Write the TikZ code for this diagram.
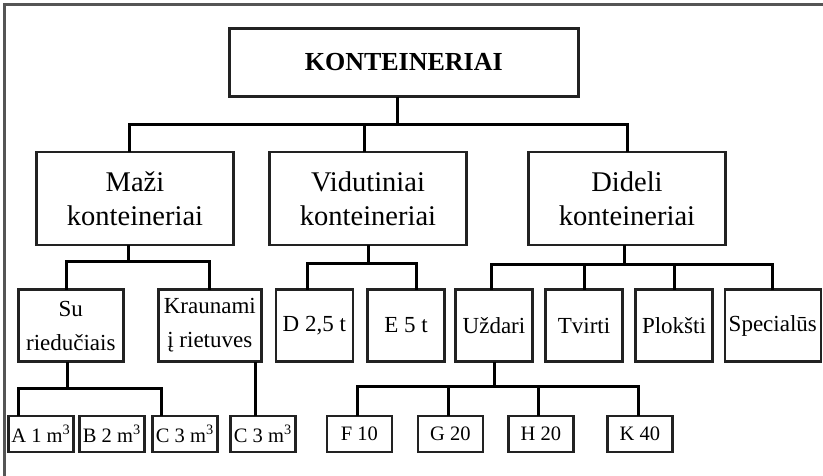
\documentclass[tikz,border=0pt]{standalone}
\usepackage{fontspec}
\setmainfont{Liberation Serif}
\usetikzlibrary{positioning, calc}

\begin{document}
\begin{tikzpicture}[
    x=1pt, y=-1pt,
    node distance = 14pt,
    box/.style = {
        rectangle,
        draw={rgb,255:red,34;green,34;blue,34},
        line width=2.6pt,
        outer sep=0pt,
        inner xsep=1pt,
        inner ysep=2pt,
        align=center,
        text=black
    },
    rootbox/.style = {box, minimum width=349pt, minimum height=68pt,
        font=\fontsize{26}{31}\selectfont\bfseries},
    grp/.style = {box, minimum width=197pt, minimum height=93pt,
        font=\fontsize{28.5}{34}\selectfont},
    kind/.style = {box, minimum width=77pt, minimum height=72pt,
        font=\fontsize{23}{34}\selectfont},
    leaf/.style = {box, minimum width=65pt, minimum height=36pt,
        font=\fontsize{20.5}{24}\selectfont},
    conn/.style = {line width=3pt, color=black}
]

\useasboundingbox (0,0) rectangle (823,475);

%% Outer frame (only top and left edges are in view)
\draw[line width=2.2pt, color={rgb,255:red,85;green,85;blue,85}]
    (4.5,480) -- (4.5,4.5) -- (830,4.5);

%% Root
\node[rootbox] (konte) at (403.8,62.5) {KONTEINERIAI};

%% Groups
\node[grp] (maza) at (135,198.5) {Maži\\konteineriai};
\node[grp, right=36pt of maza] (vid) {Vidutiniai\\konteineriai};
\node[grp, right=62pt of vid]  (did) {Dideli\\konteineriai};

%% Kinds
\node[kind, minimum width=105pt] (su) at (70.8,325.5) {Su\\riedučiais};
\node[kind, minimum width=103pt, right=35pt of su] (kraun) {Kraunami\\į rietuves};
\node[kind, right=14.5pt of kraun] (d25)   {D 2,5 t};
\node[kind, right=14.7pt of d25]   (e5)    {E 5 t};
\node[kind, right=11pt of e5]      (uzd)   {Uždari};
\node[kind, right=13pt of uzd]     (tvirt) {Tvirti};
\node[kind, right=13pt of tvirt]   (plok)  {Plokšti};
\node[kind, minimum width=96pt, right=12.3pt of plok] (spec) {Specialūs};

%% Leaves
\node[leaf] (am1) at (40.8,434)     {A 1 m\textsuperscript{3}};
\node[leaf, right=6pt of am1]   (bm2)  {B 2 m\textsuperscript{3}};
\node[leaf, right=8pt of bm2]   (cm3)  {C 3 m\textsuperscript{3}};
\node[leaf, right=13pt of cm3]  (cm3b) {C 3 m\textsuperscript{3}};
\node[leaf, right=31.5pt of cm3b] (f10) {F 10};
\node[leaf, right=26pt of f10]  (g20)  {G 20};
\node[leaf, right=25.6pt of g20] (h20) {H 20};
\node[leaf, right=34pt of h20]  (k40)  {K 40};

%% Bus points
\coordinate (kbus) at ($(konte.south)+(-6,27.5)$);
\coordinate (mbus) at ($(maza.south)+(-7,16.5)$);
\coordinate (vbus) at ($(vid.south)+(0,18)$);
\coordinate (dbus) at ($(did.south)+(-2.5,19)$);
\coordinate (sbus) at ($(su.south)+(-3.5,26.8)$);
\coordinate (ubus) at ($(uzd.south)+(0,25.2)$);

%% Connectors
\draw[conn] ([xshift=-6pt]konte.south) -- (kbus);
\draw[conn] ([xshift=-6pt]maza.north) |- (kbus);
\draw[conn] ([xshift=-4pt]vid.north)  |- (kbus);
\draw[conn] (did.north) |- (kbus);

\draw[conn] ([xshift=-7pt]maza.south) -- (mbus);
\draw[conn] ([xshift=-4pt]su.north) |- (mbus);
\draw[conn] (kraun.north) |- (mbus);

\draw[conn] (vid.south) -- (vbus);
\draw[conn] ([xshift=-7pt]d25.north) |- (vbus);
\draw[conn] ([xshift=10pt]e5.north)  |- (vbus);

\draw[conn] ([xshift=-2.5pt]did.south) -- (dbus);
\draw[conn] ([xshift=-3pt]uzd.north) |- (dbus);
\draw[conn] (tvirt.north) |- (dbus);
\draw[conn] (plok.north)  |- (dbus);
\draw[conn] (spec.north)  |- (dbus);

\draw[conn] ([xshift=-3.5pt]su.south) -- (sbus);
\draw[conn] ([xshift=-22.5pt]am1.north) |- (sbus);
\draw[conn] ([xshift=-23pt]cm3.north)   |- (sbus);

\draw[conn] ([xshift=-7pt]cm3b.north) -- ([xshift=-7pt]cm3b.north |- kraun.south);

\draw[conn] (uzd.south) -- (ubus);
\draw[conn] ([xshift=-2pt]f10.north) |- (ubus);
\draw[conn] ([xshift=-2pt]g20.north) |- (ubus);
\draw[conn] ([xshift=-2.5pt]h20.north) |- (ubus);
\draw[conn] ([xshift=-1.5pt]k40.north) |- (ubus);

\end{tikzpicture}
\end{document}
